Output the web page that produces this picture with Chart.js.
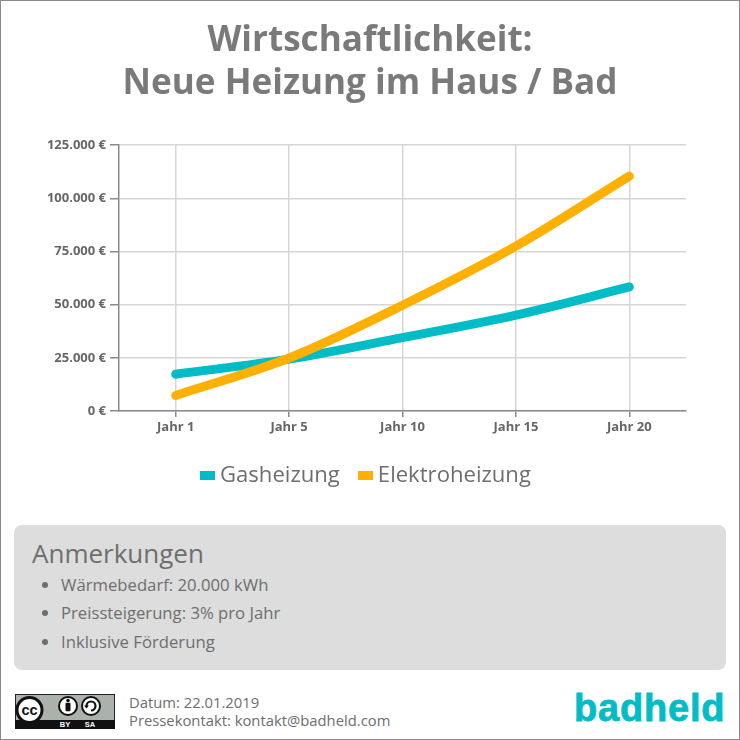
<!DOCTYPE html>
<html lang="de"><head><meta charset="utf-8">
<style>
html,body{margin:0;padding:0;background:#fff}
body{width:740px;height:740px;position:relative;overflow:hidden;font-family:"Open Sans",sans-serif;color:#6e6e6e}
#frame{position:absolute;left:0;top:0;width:738px;height:738px;border:1px solid #8a8a8a;pointer-events:none}
#wrap{position:absolute;left:0;top:0;width:740px;height:500px}
#legend{position:absolute;left:200px;top:458px;height:30px;display:flex;align-items:center;font-size:22.100px;line-height:30px;color:#6e6e6e;white-space:nowrap}
#legend i{display:inline-block;width:15px;height:9px;margin-right:5px;position:relative;top:2px}
#legend span{margin-right:18px}
#panel{position:absolute;left:14px;top:525px;width:712px;height:145px;background:#dddddd;border-radius:8px}
#panel h2{position:absolute;left:18px;top:11px;margin:0;font-size:26px;font-weight:400;line-height:35px;color:#6e6e6e}
#panel ul{position:absolute;left:47px;top:45.500px;margin:0;padding:0;font-size:16.700px;line-height:28.500px;color:#6e6e6e}
#meta{position:absolute;left:129px;top:693px;font-size:14.800px;line-height:18px;color:#6e6e6e}
#logo{position:absolute;left:574px;top:684px;font:bold 38px "Liberation Sans",sans-serif;letter-spacing:.8px;color:#00bcc6;line-height:48px;-webkit-text-stroke:.8px #00bcc6;paint-order:stroke}
#cc{position:absolute;left:15px;top:694px}
</style></head><body>
<div id="wrap"><canvas id="c" width="740" height="500"></canvas></div>
<div id="legend"></div>
<div id="panel"><h2>Anmerkungen</h2><ul id="notes"></ul></div>
<svg id="cc" width="100" height="35" viewBox="0 0 100 35">
<rect x=".5" y=".5" width="99" height="34" fill="#aab2ab" stroke="#222" stroke-width="1"/>
<rect x="0" y="26" width="100" height="9" fill="#111"/>
<circle cx="14.500" cy="16" r="12.500" fill="#fff" stroke="#111" stroke-width="3"/>
<text x="14.500" y="21" text-anchor="middle" font-family="Liberation Sans" font-weight="bold" font-size="14.500" fill="#111">cc</text>
<circle cx="53" cy="12" r="9" fill="#fff" stroke="#111" stroke-width="2"/>
<circle cx="53" cy="6.500" r="1.800" fill="#111"/><rect x="50.500" y="8.800" width="5" height="8.500" rx="1" fill="#111"/>
<circle cx="76" cy="12" r="9" fill="#fff" stroke="#111" stroke-width="2"/>
<path d="M71.500 12a4.500 4.500 0 1 1 4.500 4.500" fill="none" stroke="#111" stroke-width="2.200"/>
<path d="M69 11.500h5l-2.500 3z" fill="#111"/>
<text x="50" y="33" text-anchor="middle" font-family="Liberation Sans" font-weight="bold" font-size="7.500" fill="#fff">BY</text>
<text x="75" y="33" text-anchor="middle" font-family="Liberation Sans" font-weight="bold" font-size="7.500" fill="#fff">SA</text>
</svg>
<div id="meta"><div>Datum: 22.01.2019</div><div>Pressekontakt: kontakt@badheld.com</div></div>
<div id="logo">badheld</div>
<div id="frame"></div>
<script src="https://cdn.jsdelivr.net/npm/chart.js@4"></script>
<script>
const categories = ["Jahr 1","Jahr 5","Jahr 10","Jahr 15","Jahr 20"];
const gasheizung = [17300,24400,34500,45100,58300];
const elektroheizung = [7300,24900,49700,77500,110400];
const notes = ["Wärmebedarf: 20.000 kWh","Preissteigerung: 3% pro Jahr","Inklusive Förderung"];
const titleLines = ["Wirtschaftlichkeit:","Neue Heizung im Haus / Bad"];

document.getElementById("notes").innerHTML = notes.map(n=>"<li>"+n+"</li>").join("");
const axisColor="#8a8a8a", gridColor="#d6d6d6";
const centerTitle={id:"centerTitle",afterLayout(chart){chart.titleBlock.left=0;chart.titleBlock.right=chart.width;}};
const chart=new Chart(document.getElementById("c"),{
  type:"line",
  plugins:[centerTitle],
  data:{labels:categories,datasets:[
    {label:"Gasheizung",order:2,data:gasheizung,borderColor:"#00bcc6",backgroundColor:"#00bcc6",borderWidth:9,borderCapStyle:"round",pointRadius:0,tension:0.4,cubicInterpolationMode:"monotone"},
    {label:"Elektroheizung",order:1,data:elektroheizung,borderColor:"#ffb000",backgroundColor:"#ffb000",borderWidth:9,borderCapStyle:"round",pointRadius:0,tension:0.4,cubicInterpolationMode:"monotone"}
  ]},
  options:{
    responsive:false,animation:false,
    layout:{padding:{left:0,right:54,top:0,bottom:43}},
    plugins:{
      tooltip:{enabled:false},
      title:{display:true,text:titleLines,color:"#7a7a7a",font:{family:"Open Sans",size:35.100,weight:"bold",lineHeight:1.226},padding:{top:19,bottom:40}},
      legend:{display:false}
    },
    scales:{
      x:{offset:true,
        afterFit(s){s.height=46},
        grid:{color:gridColor,tickColor:axisColor,tickLength:6,offset:false,lineWidth:1.500},
        border:{color:axisColor,width:1.500},
        ticks:{color:"#666",font:{family:"Open Sans",size:13,weight:"bold"},padding:2,maxRotation:0}},
      y:{min:0,max:125000,
        afterFit(s){s.width=119},
        grid:{color:gridColor,tickColor:axisColor,tickLength:9,lineWidth:1.500},
        border:{color:axisColor,width:1.500},
        ticks:{stepSize:25000,color:"#666",font:{family:"Open Sans",size:13,weight:"bold"},padding:4,
          callback:v=>v.toLocaleString("de-DE")+" €"}}
    }
  }
});
document.getElementById("legend").innerHTML=chart.data.datasets.map(d=>'<i style="background:'+d.backgroundColor+'"></i><span>'+d.label+'</span>').join("");
</script>
</body></html>
